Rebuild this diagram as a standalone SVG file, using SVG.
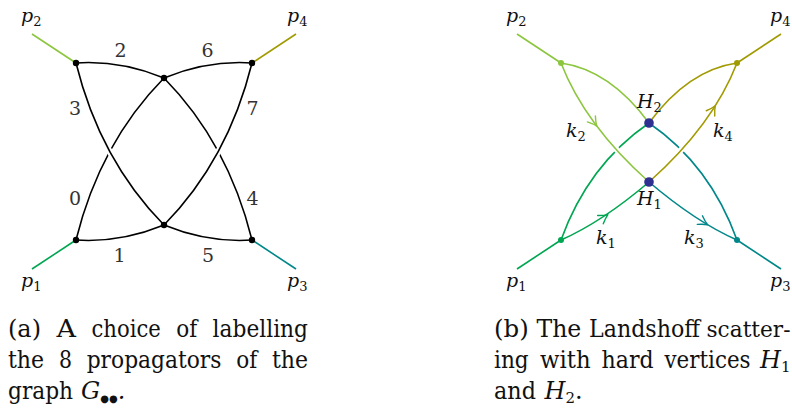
<svg xmlns="http://www.w3.org/2000/svg" width="792" height="408" viewBox="0 0 792 408">
<style>
.e{fill:none;stroke:#000;stroke-width:1.6}
.lg{fill:none;stroke:#8cc63e;stroke-width:1.6}
.ol{fill:none;stroke:#a19a00;stroke-width:1.6}
.gr{fill:none;stroke:#00a651;stroke-width:1.6}
.tl{fill:none;stroke:#00878a;stroke-width:1.6}
.halo{fill:none;stroke:#fff;stroke-width:6}
.arr{fill:none;stroke-width:1.4;stroke-linecap:round;stroke-linejoin:round}
text{font-family:'DejaVu Serif',serif}
.lbl{font-size:19px;fill:#333}
.it{font-style:italic;font-size:19px;fill:#111}
.sub{font-style:normal;font-size:13px}
.cap text{font-size:24px;fill:#111}
</style>
<rect width="792" height="408" fill="#fff"/>

<!-- Left diagram -->
<g id="left-connectors">
  <path class="lg" d="M32,34 L76,63"/>
  <path class="ol" d="M252,63 L296,34"/>
  <path class="gr" d="M32,269 L76,240"/>
  <path class="tl" d="M252,240 L296,269"/>
  <path class="e" d="M76,63 Q120,60 164,78"/>
  <path class="e" d="M164,78 Q208,60 252,63"/>
  <path class="e" d="M76,240 Q120,243 164,225"/>
  <path class="e" d="M164,225 Q208,243 252,240"/>
  <path class="e" d="M76,240 Q100,143 164,78"/>
  <path class="e" d="M252,240 Q228,143 164,78"/>
  <path class="halo" d="M106.8,146.2 L112.6,156.8"/>
  <path class="halo" d="M221.2,146.2 L215.4,156.8"/>
  <path class="e" d="M76,63 Q100,160 164,225"/>
  <path class="e" d="M252,63 Q228,160 164,225"/>
</g>
<g id="left-nodes">
  <circle id="a-tl" cx="76" cy="63" r="3.2"/>
  <circle id="a-tm" cx="164" cy="78" r="3.2"/>
  <circle id="a-tr" cx="252" cy="63" r="3.2"/>
  <circle id="a-bl" cx="76" cy="240" r="3.2"/>
  <circle id="a-bm" cx="164" cy="225" r="3.2"/>
  <circle id="a-br" cx="252" cy="240" r="3.2"/>
</g>
<g id="left-labels">
  <text class="lbl" x="120.5" y="57" text-anchor="middle">2</text>
  <text class="lbl" x="207.5" y="57" text-anchor="middle">6</text>
  <text class="lbl" x="75" y="115" text-anchor="middle">3</text>
  <text class="lbl" x="252.5" y="115" text-anchor="middle">7</text>
  <text class="lbl" x="75" y="205" text-anchor="middle">0</text>
  <text class="lbl" x="252.5" y="205" text-anchor="middle">4</text>
  <text class="lbl" x="119.5" y="262" text-anchor="middle">1</text>
  <text class="lbl" x="208" y="262" text-anchor="middle">5</text>
  <text class="it" x="21" y="22">p<tspan class="sub" dy="4">2</tspan></text>
  <text class="it" x="287" y="22">p<tspan class="sub" dy="4">4</tspan></text>
  <text class="it" x="21" y="287">p<tspan class="sub" dy="4">1</tspan></text>
  <text class="it" x="287" y="287">p<tspan class="sub" dy="4">3</tspan></text>
</g>

<!-- Right diagram -->
<g id="right-connectors">
  <path class="lg" d="M517,34 L561,63"/>
  <path class="ol" d="M737,63 L781,34"/>
  <path class="gr" d="M517,269 L561,240"/>
  <path class="tl" d="M737,240 L781,269"/>
  <path class="gr" d="M561,240 Q588,165 649,123"/>
  <path class="tl" d="M649,123 Q710,165 737,240"/>
  <path class="halo" d="M612.5,145.1 L620.5,153.9"/>
  <path class="halo" d="M685.5,145.1 L677.5,153.9"/>
  <path class="lg" d="M561,63 Q585,125 649,182"/>
  <path class="ol" d="M649,182 Q713,125 737,63"/>
  <path class="lg" d="M561,63 Q610,70 649,123"/>
  <path class="ol" d="M649,123 Q688,70 737,63"/>
  <path class="gr" d="M561,240 Q602,222 649,182"/>
  <path class="tl" d="M649,182 Q696,222 737,240"/>
  <path class="arr" stroke="#8cc63e" d="M-9,-5 Q-3.5,-1.2 0,0 Q-3.5,1.2 -9,5" transform="translate(596.8,126.1) rotate(53)"/>
  <path class="arr" stroke="#a19a00" d="M-9,-5 Q-3.5,-1.2 0,0 Q-3.5,1.2 -9,5" transform="translate(715.3,105.8) rotate(-57.8)"/>
  <path class="arr" stroke="#00a651" d="M-9,-5 Q-3.5,-1.2 0,0 Q-3.5,1.2 -9,5" transform="translate(607.9,214.6) rotate(-34.2)"/>
  <path class="arr" stroke="#00878a" d="M-9,-5 Q-3.5,-1.2 0,0 Q-3.5,1.2 -9,5" transform="translate(707.6,224.7) rotate(30.8)"/>
</g>
<g id="right-nodes">
  <circle id="b-v2" cx="561" cy="63" r="3" fill="#8cc63e"/>
  <circle id="b-v4" cx="737" cy="63" r="3" fill="#a19a00"/>
  <circle id="b-v1" cx="561" cy="240" r="3" fill="#00a651"/>
  <circle id="b-v3" cx="737" cy="240" r="3" fill="#00878a"/>
  <circle id="H2" cx="649" cy="123" r="4.8" fill="#2e3192"/>
  <circle id="H1" cx="649" cy="182" r="4.8" fill="#2e3192"/>
</g>
<g id="right-labels">
  <text class="it" x="637" y="108">H<tspan class="sub" dy="4">2</tspan></text>
  <text class="it" x="637" y="205">H<tspan class="sub" dy="4">1</tspan></text>
  <text class="it" x="566" y="137">k<tspan class="sub" dy="4">2</tspan></text>
  <text class="it" x="713" y="137">k<tspan class="sub" dy="4">4</tspan></text>
  <text class="it" x="596" y="244">k<tspan class="sub" dy="4">1</tspan></text>
  <text class="it" x="684" y="244">k<tspan class="sub" dy="4">3</tspan></text>
  <text class="it" x="506" y="22">p<tspan class="sub" dy="4">2</tspan></text>
  <text class="it" x="770" y="22">p<tspan class="sub" dy="4">4</tspan></text>
  <text class="it" x="506" y="287">p<tspan class="sub" dy="4">1</tspan></text>
  <text class="it" x="770" y="287">p<tspan class="sub" dy="4">3</tspan></text>
</g>

<!-- Captions -->
<g id="caption-a" class="cap">
  <text x="8" y="337" textLength="33" lengthAdjust="spacingAndGlyphs">(a)</text>
  <text x="56.6" y="337" textLength="19.5" lengthAdjust="spacingAndGlyphs">A</text>
  <text x="91.5" y="337" textLength="69.3" lengthAdjust="spacingAndGlyphs">choice</text>
  <text x="176.2" y="337" textLength="21" lengthAdjust="spacingAndGlyphs">of</text>
  <text x="212.6" y="337" textLength="95.4" lengthAdjust="spacingAndGlyphs">labelling</text>
  <text x="8" y="368" textLength="36.1" lengthAdjust="spacingAndGlyphs">the</text>
  <text x="58.9" y="368" textLength="13" lengthAdjust="spacingAndGlyphs">8</text>
  <text x="86.7" y="368" textLength="134.7" lengthAdjust="spacingAndGlyphs">propagators</text>
  <text x="236.2" y="368" textLength="21" lengthAdjust="spacingAndGlyphs">of</text>
  <text x="272" y="368" textLength="36.1" lengthAdjust="spacingAndGlyphs">the</text>
  <text x="8" y="399" textLength="65.1" lengthAdjust="spacingAndGlyphs">graph</text>
  <text x="81" y="399" font-style="italic">G<tspan font-family="'DejaVu Sans',sans-serif" font-size="10" font-style="normal" dy="3">●●</tspan><tspan dy="-3">.</tspan></text>
</g>
<g id="caption-b" class="cap">
  <text x="494" y="337" textLength="34.7" lengthAdjust="spacingAndGlyphs">(b)</text>
  <text x="536.5" y="337" textLength="44.8" lengthAdjust="spacingAndGlyphs">The</text>
  <text x="589" y="337" textLength="111" lengthAdjust="spacingAndGlyphs">Landshoff</text>
  <text x="706.5" y="337" style="font-size:22px" textLength="84" lengthAdjust="spacingAndGlyphs">scatter-</text>
  <text x="494" y="368" textLength="34.7" lengthAdjust="spacingAndGlyphs">ing</text>
  <text x="540" y="368" textLength="50.6" lengthAdjust="spacingAndGlyphs">with</text>
  <text x="601.5" y="368" textLength="52.1" lengthAdjust="spacingAndGlyphs">hard</text>
  <text x="664.5" y="368" textLength="86.1" lengthAdjust="spacingAndGlyphs">vertices</text>
  <text x="760" y="368" font-style="italic">H<tspan font-style="normal" font-size="15" dy="4">1</tspan></text>
  <text x="494" y="399" textLength="41.9" lengthAdjust="spacingAndGlyphs">and</text>
  <text x="544.5" y="399" font-style="italic">H<tspan font-style="normal" font-size="15" dy="4">2</tspan><tspan font-style="normal" dy="-4">.</tspan></text>
</g>
</svg>
